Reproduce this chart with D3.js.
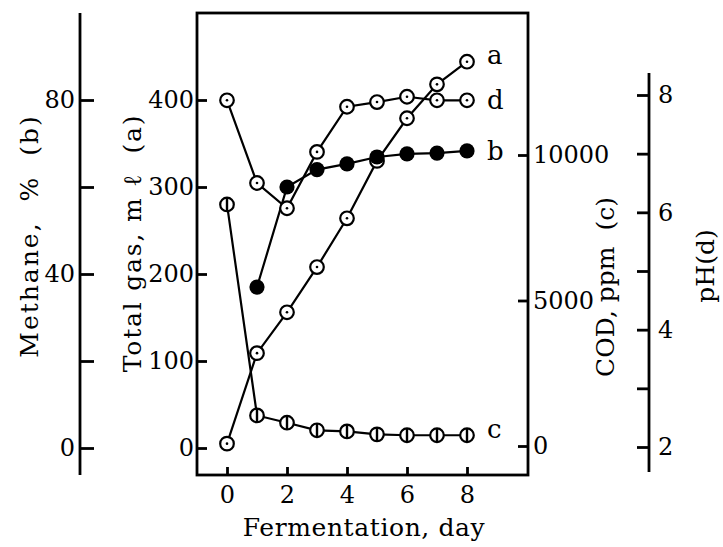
<!DOCTYPE html>
<html>
<head>
<meta charset="utf-8">
<script src="https://cdn.jsdelivr.net/npm/d3@7"></script>
<style>
  body { margin: 0; background: #fff; }
  svg { display: block; }
  text { font-family: "DejaVu Serif", "Liberation Serif", serif; fill: #000; }
</style>
</head>
<body>
<div id="chart"></div>
<script>
// data
const days = [0, 1, 2, 3, 4, 5, 6, 7, 8];
const totalGas = [5, 109, 156, 208, 264, 330, 379, 418, 444];          // a, mℓ
const methaneDays = [1, 2, 3, 4, 5, 6, 7, 8];
const methane = [37, 60, 64, 65.3, 66.9, 67.6, 67.8, 68.3];           // b, %
const cod = [8300, 1050, 800, 540, 500, 400, 370, 370, 370];         // c, ppm
const ph = [7.91, 6.5, 6.07, 7.03, 7.8, 7.88, 7.97, 7.91, 7.91];     // d

const xTicks = [0, 2, 4, 6, 8];
const methaneTicks = [0, 20, 40, 60, 80];
const gasTicks = [0, 100, 200, 300, 400];
const codTicks = [0, 5000, 10000];
const phTicks = [2, 3, 4, 5, 6, 7, 8];

const W = 723, H = 547;
const box = {left: 197, right: 528, top: 13, bottom: 475};

const svg = d3.select("#chart").append("svg")
    .attr("width", W).attr("height", H);

// scales
const x = d3.scaleLinear().domain([0, 8]).range([227, 467]);
const yGas = d3.scaleLinear().domain([0, 400]).range([448, 100]);
const yMeth = d3.scaleLinear().domain([0, 80]).range([448, 100]);
const yCod = d3.scaleLinear().domain([0, 10000]).range([446, 155]);
const yPh = d3.scaleLinear().domain([2, 8]).range([447, 95]);

const fs = 24;   // tick labels
const ls = 25;   // axis titles

// frame
svg.append("rect")
    .attr("x", box.left).attr("y", box.top)
    .attr("width", box.right - box.left).attr("height", box.bottom - box.top)
    .attr("fill", "none").attr("stroke", "#000").attr("stroke-width", 2.8);

function styleAxis(g) {
    g.select(".domain").remove();
    g.selectAll(".tick line").attr("stroke", "#000").attr("stroke-width", 2.8);
    g.selectAll(".tick text").attr("font-size", fs)
        .attr("font-family", "DejaVu Serif, serif").attr("fill", "#000");
}

// methane axis (outer left)
const mX = 80;
svg.append("line").attr("x1", mX).attr("x2", mX).attr("y1", 13).attr("y2", 475)
    .attr("stroke", "#000").attr("stroke-width", 2.8);
svg.append("g").attr("transform", `translate(${mX},0)`)
    .call(d3.axisLeft(yMeth).tickValues(methaneTicks).tickSize(-14).tickPadding(5)
        .tickFormat(d => d % 40 === 0 ? d : ""))
    .call(styleAxis);

// total gas axis (box left)
svg.append("g").attr("transform", `translate(${box.left},0)`)
    .call(d3.axisLeft(yGas).tickValues(gasTicks).tickSize(-10).tickPadding(3))
    .call(styleAxis);

// COD axis (box right)
svg.append("g").attr("transform", `translate(${box.right},0)`)
    .call(d3.axisRight(yCod).tickValues(codTicks).tickSize(-10).tickPadding(5)
        .tickFormat(d3.format("d")))
    .call(styleAxis);

// pH axis
const pX = 649;
svg.append("line").attr("x1", pX).attr("x2", pX).attr("y1", 73).attr("y2", 472)
    .attr("stroke", "#000").attr("stroke-width", 2.8);
svg.append("g").attr("transform", `translate(${pX},0)`)
    .call(d3.axisRight(yPh).tickValues(phTicks).tickSize(-12).tickPadding(9)
        .tickFormat(d => d % 2 === 0 ? d : ""))
    .call(styleAxis);

// x axis
svg.append("g").attr("transform", `translate(0,${box.bottom})`)
    .call(d3.axisBottom(x).tickValues(xTicks).tickSize(-8).tickPadding(11))
    .call(styleAxis);

// axis titles
function vLabel(txt, cx, cy, sp) {
    svg.append("text")
        .attr("transform", `translate(${cx},${cy}) rotate(-90)`)
        .attr("text-anchor", "middle").attr("dominant-baseline", "middle")
        .attr("font-size", ls).attr("letter-spacing", sp)
        .attr("xml:space", "preserve").style("white-space", "pre")
        .text(txt);
}
vLabel("Methane,  %  (b)", 31, 236, 2);
vLabel("Total gas, m ℓ  (a)", 134, 243, 1.8);
vLabel("COD, ppm  (c)", 607, 287, 0);
vLabel("pH(d)", 707, 266, 0);

svg.append("text").attr("x", 364).attr("y", 536)
    .attr("text-anchor", "middle").attr("font-size", ls).attr("letter-spacing", 0.6)
    .text("Fermentation, day");

// lines
const lineOf = (xs, ys, yScale) => d3.line()
    .x((d, i) => x(xs[i])).y(d => yScale(d))(ys);

function drawLine(xs, ys, yScale) {
    svg.append("path").attr("d", lineOf(xs, ys, yScale))
        .attr("fill", "none").attr("stroke", "#000").attr("stroke-width", 2.2);
}
drawLine(days, cod, yCod);
drawLine(days, ph, yPh);
drawLine(days, totalGas, yGas);
drawLine(methaneDays, methane, yMeth);

// markers
function dotMarkers(xs, ys, yScale) {
    const g = svg.append("g").selectAll("g").data(ys).enter().append("g")
        .attr("transform", (d, i) => `translate(${x(xs[i])},${yScale(d)})`);
    g.append("circle").attr("r", 6.8).attr("fill", "#fff")
        .attr("stroke", "#000").attr("stroke-width", 2.2);
    g.append("circle").attr("r", 1.3).attr("fill", "#000");
}
function barMarkers(xs, ys, yScale) {
    const g = svg.append("g").selectAll("g").data(ys).enter().append("g")
        .attr("transform", (d, i) => `translate(${x(xs[i])},${yScale(d)})`);
    g.append("circle").attr("r", 6.8).attr("fill", "#fff")
        .attr("stroke", "#000").attr("stroke-width", 2.2);
    g.append("line").attr("y1", -6.8).attr("y2", 6.8)
        .attr("stroke", "#000").attr("stroke-width", 2.4);
}
barMarkers(days, cod, yCod);
dotMarkers(days, ph, yPh);
dotMarkers(days, totalGas, yGas);
svg.append("g").selectAll("circle").data(methane).enter().append("circle")
    .attr("cx", (d, i) => x(methaneDays[i])).attr("cy", d => yMeth(d))
    .attr("r", 7.6).attr("fill", "#000");

// series letters
const letters = [
    {t: "a", v: totalGas[8], s: yGas, dy: -5},
    {t: "d", v: ph[8], s: yPh, dy: 2},
    {t: "b", v: methane[7], s: yMeth, dy: 2},
    {t: "c", v: cod[8], s: yCod, dy: -4}
];
letters.forEach(l => {
    svg.append("text").attr("x", x(8) + 20).attr("y", l.s(l.v) + l.dy)
        .attr("dominant-baseline", "middle").attr("font-size", 26).text(l.t);
});
</script>
</body>
</html>
